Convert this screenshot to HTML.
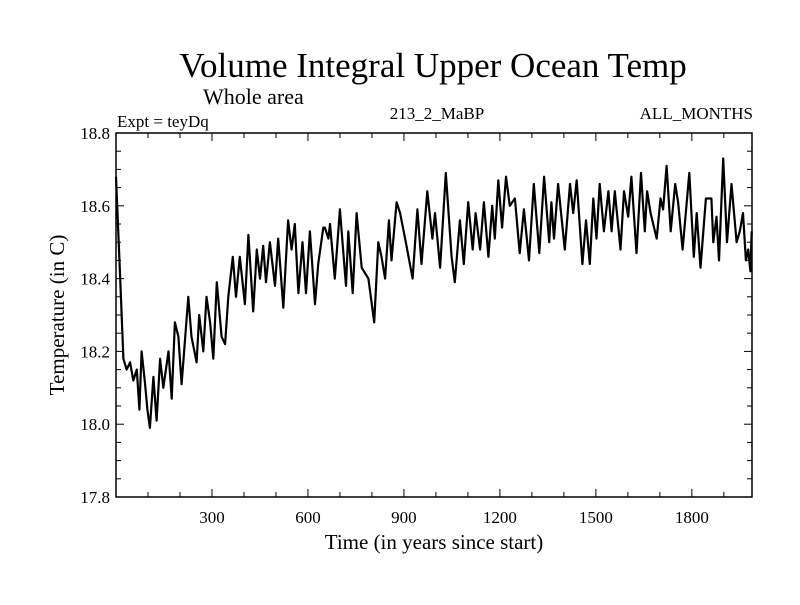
<!DOCTYPE html>
<html><head><meta charset="utf-8"><style>
body{margin:0;background:#fff}
svg text{font-family:"Liberation Serif",serif;fill:#000}
</style></head><body>
<svg id="c" width="800" height="600" xmlns="http://www.w3.org/2000/svg">
<text x="433" y="77" font-size="35" text-anchor="middle">Volume Integral Upper Ocean Temp</text>
<text x="203" y="104" font-size="22">Whole area</text>
<text x="117" y="127" font-size="17">Expt = teyDq</text>
<text x="437" y="119" font-size="17" text-anchor="middle">213_2_MaBP</text>
<text x="753" y="119" font-size="17" text-anchor="end">ALL_MONTHS</text>
<text x="434" y="549" font-size="21" text-anchor="middle">Time (in years since start)</text>
<text transform="translate(64,315) rotate(-90)" font-size="21" text-anchor="middle">Temperature (in C)</text>
<g id="axes"></g>
<rect x="116" y="133" width="636" height="364" fill="none" stroke="#000" stroke-width="1.5"/>
</svg>
<script>
const years=[0,13,23,33,44,54,65,73,80,91,98,106,117,127,138,148,164,174,184,195,205,226,236,252,260,273,283,294,304,315,330,341,351,365,375,387,403,414,429,440,450,460,469,481,497,507,523,538,549,559,570,583,594,606,622,632,648,653,664,669,684,700,719,726,740,752,768,789,807,820,830,841,853,861,877,888,908,927,942,955,973,989,997,1013,1031,1049,1059,1075,1087,1101,1115,1124,1138,1150,1164,1176,1184,1195,1207,1219,1231,1247,1262,1275,1291,1306,1323,1338,1354,1361,1369,1382,1403,1419,1429,1440,1458,1469,1481,1492,1502,1512,1525,1539,1549,1559,1577,1588,1601,1611,1627,1641,1653,1660,1671,1690,1702,1710,1721,1734,1748,1757,1771,1792,1806,1815,1827,1844,1861,1867,1877,1885,1898,1910,1924,1940,1950,1960,1969,1976,1983,1987];
const temps=[18.68,18.40,18.18,18.15,18.17,18.12,18.15,18.04,18.20,18.11,18.04,17.99,18.13,18.01,18.18,18.10,18.20,18.07,18.28,18.24,18.11,18.35,18.24,18.17,18.30,18.20,18.35,18.28,18.18,18.39,18.24,18.22,18.35,18.46,18.35,18.46,18.33,18.52,18.31,18.48,18.40,18.49,18.39,18.50,18.38,18.51,18.32,18.56,18.48,18.55,18.36,18.50,18.36,18.53,18.33,18.44,18.54,18.54,18.51,18.55,18.40,18.59,18.38,18.53,18.36,18.58,18.43,18.40,18.28,18.50,18.46,18.40,18.56,18.45,18.61,18.58,18.49,18.40,18.59,18.44,18.64,18.51,18.58,18.43,18.69,18.46,18.39,18.56,18.44,18.61,18.48,18.58,18.48,18.61,18.46,18.60,18.51,18.67,18.54,18.68,18.60,18.62,18.47,18.59,18.45,18.66,18.47,18.68,18.50,18.61,18.51,18.66,18.48,18.66,18.58,18.67,18.44,18.56,18.44,18.62,18.51,18.66,18.53,18.64,18.53,18.64,18.48,18.64,18.57,18.68,18.47,18.69,18.53,18.64,18.58,18.51,18.62,18.59,18.71,18.53,18.66,18.61,18.48,18.69,18.46,18.58,18.43,18.62,18.62,18.50,18.57,18.45,18.73,18.50,18.66,18.50,18.53,18.58,18.45,18.48,18.42,18.53];
const xTicks=[300,600,900,1200,1500,1800];
const yTicks=[17.8,18.0,18.2,18.4,18.6,18.8];
const X0=116,X1=752,Y0=497,Y1=133,XMIN=0,XMAX=1988,YMIN=17.8,YMAX=18.8;
function sx(v){return X0+(v-XMIN)/(XMAX-XMIN)*(X1-X0);}
function sy(v){return Y0-(v-YMIN)/(YMAX-YMIN)*(Y0-Y1);}
const NS="http://www.w3.org/2000/svg";
const svg=document.getElementById('c'),g=document.getElementById('axes');
function ln(x1,y1,x2,y2,w){const l=document.createElementNS(NS,'line');l.setAttribute('x1',x1);l.setAttribute('y1',y1);l.setAttribute('x2',x2);l.setAttribute('y2',y2);l.setAttribute('stroke','#000');l.setAttribute('stroke-width',w||1);g.appendChild(l);return l;}
for(let t=100;t<XMAX;t+=100){const x=sx(t),L=(t%300===0)?8:5;
 const a=ln(x,Y0,x,Y0-L);
 const b=ln(x,Y1,x,Y1+L);}
for(let i=0;i<=20;i++){const v=YMIN+i*0.05,y=sy(v),L=(i%4===0)?8:5;
 const a=ln(X0,y,X0+L,y);
 const b=ln(X1,y,X1-L,y);}
xTicks.forEach(t=>{const e=document.createElementNS(NS,'text');e.setAttribute('x',sx(t));e.setAttribute('y',Y0+26);e.setAttribute('font-size','17');e.setAttribute('text-anchor','middle');e.textContent=t;


svg.appendChild(e);});
yTicks.forEach(t=>{const e=document.createElementNS(NS,'text');e.setAttribute('x',X0-6);e.setAttribute('y',sy(t)+6);e.setAttribute('font-size','17');e.setAttribute('text-anchor','end');e.textContent=t.toFixed(1);


svg.appendChild(e);});
const p=document.createElementNS(NS,'polyline');
p.setAttribute('points',years.map((y,i)=>sx(y).toFixed(1)+','+sy(temps[i]).toFixed(1)).join(' '));
p.setAttribute('fill','none');p.setAttribute('stroke','#000');p.setAttribute('stroke-width','2.2');p.setAttribute('stroke-linejoin','round');


svg.appendChild(p);
</script>
</body></html>
